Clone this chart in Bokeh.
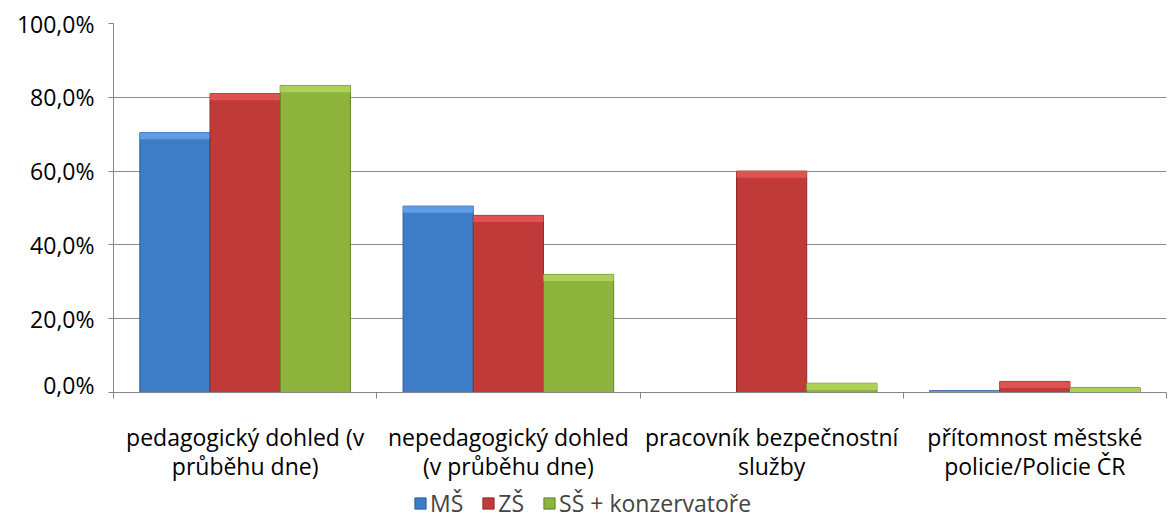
from bokeh.plotting import figure
from bokeh.models import (Range1d, FixedTicker, LinearAxis, Legend, LegendItem, Grid, ColumnDataSource)
from bokeh.layouts import column
from bokeh.core.properties import value
from bokeh.embed import file_html
from bokeh.resources import INLINE

categories = ["pedagogický dohled (v\nprůběhu dne)",
              "nepedagogický dohled\n(v průběhu dne)",
              "pracovník bezpečnostní\nslužby",
              "přítomnost městské\npolicie/Policie ČR"]
series_names = ["MŠ", "ZŠ", "SŠ + konzervatoře"]
ms_values = [70.4, 50.5, 0.0, 0.5]
zs_values = [81.0, 48.0, 60.0, 3.0]
ss_values = [83.2, 32.0, 2.5, 1.3]
y_ticks = [0, 20, 40, 60, 80, 100]
y_tick_labels = ["0,0%", "20,0%", "40,0%", "60,0%", "80,0%", "100,0%"]

colors = ["#3d7dc8", "#c03a39", "#8eb43e"]
edges = ["#2b5d99", "#8e2a29", "#66842a"]
tops = ["#62a0e6", "#e25553", "#b0d45a"]
FONT = "Open Sans"
FS = "23px"

xr = Range1d(0, 4)
p = figure(frame_width=1053, frame_height=369, output_backend="svg", toolbar_location=None,
           x_range=xr, y_range=Range1d(0, 100),
           x_axis_type=None, y_axis_type=None,
           min_border_left=113, min_border_right=2, min_border_top=23,
           min_border_bottom=8)
p.outline_line_color = None
p.background_fill_color = "white"
p.border_fill_color = "white"

# y axis
yax = LinearAxis(ticker=FixedTicker(ticks=y_ticks))
yax.major_label_overrides = {t: l for t, l in zip(y_ticks, y_tick_labels)}
yax.major_label_text_font = FONT
yax.major_label_text_font_size = FS
yax.major_label_text_color = "black"
yax.axis_line_color = "#868686"
yax.major_tick_line_color = "#868686"
yax.major_tick_out = 5
yax.major_tick_in = 0
yax.minor_tick_line_color = None
yax.major_label_standoff = 14
p.add_layout(yax, "left")

# x axis (tick marks at category boundaries; labels drawn below)
centers = [i + 0.5 for i in range(len(categories))]
xax = LinearAxis(ticker=FixedTicker(ticks=[], minor_ticks=list(range(len(categories) + 1))))
xax.major_label_text_font_size = "0px"
xax.major_label_standoff = 0
xax.axis_line_color = "#868686"
xax.major_tick_line_color = None
xax.minor_tick_line_color = "#868686"
xax.minor_tick_out = 6
xax.minor_tick_in = 0
p.add_layout(xax, "below")

p.add_layout(Grid(dimension=1, ticker=yax.ticker, grid_line_color="#8c8c8c", grid_line_width=1))

w = 0.8 / 3
for k, vals in enumerate([ms_values, zs_values, ss_values]):
    xs = [c + (k - 1) * w for c in centers]
    p.vbar(x=xs, top=vals, width=w, bottom=0, fill_color=colors[k],
           line_color=edges[k], line_width=1)
    bev = [v - min(v, 1.8) for v in vals]
    p.vbar(x=xs, top=vals, bottom=bev, width=w, fill_color=tops[k],
           line_color=None, fill_alpha=0.9)

# lower strip: category labels + legend
p2 = figure(frame_width=1053, height=119, output_backend="svg", toolbar_location=None,
            x_range=xr, y_range=Range1d(0, 119), x_axis_type=None, y_axis_type=None,
            min_border_left=113, min_border_right=2, min_border_top=0, min_border_bottom=0)
p2.outline_line_color = None
p2.grid.visible = False
p2.background_fill_color = "white"
p2.border_fill_color = "white"

src = ColumnDataSource(dict(x=centers, y=[68] * len(centers), t=categories))
p2.text(x="x", y="y", text="t", source=src, text_font=value(FONT), text_font_size=FS,
        text_align="center", text_baseline="middle", text_line_height=0.93, text_color="black")

items = []
for k, name in enumerate(series_names):
    # off-range placeholder so the legend swatch has something to draw from
    r = p2.vbar(x=[-50], top=[-50], bottom=[-51], width=w, fill_color=colors[k], line_color=edges[k])
    items.append(LegendItem(label=name, renderers=[r]))
legend = Legend(items=items, orientation="horizontal", location=(300, 0),
                label_text_font=FONT, label_text_font_size=FS,
                glyph_width=14, glyph_height=14, label_standoff=3, spacing=18,
                border_line_color=None, background_fill_alpha=0, margin=0, padding=0)
p2.add_layout(legend, "center")

layout = column(p, p2, spacing=0)
open("out.html", "w").write(file_html(layout, INLINE))
